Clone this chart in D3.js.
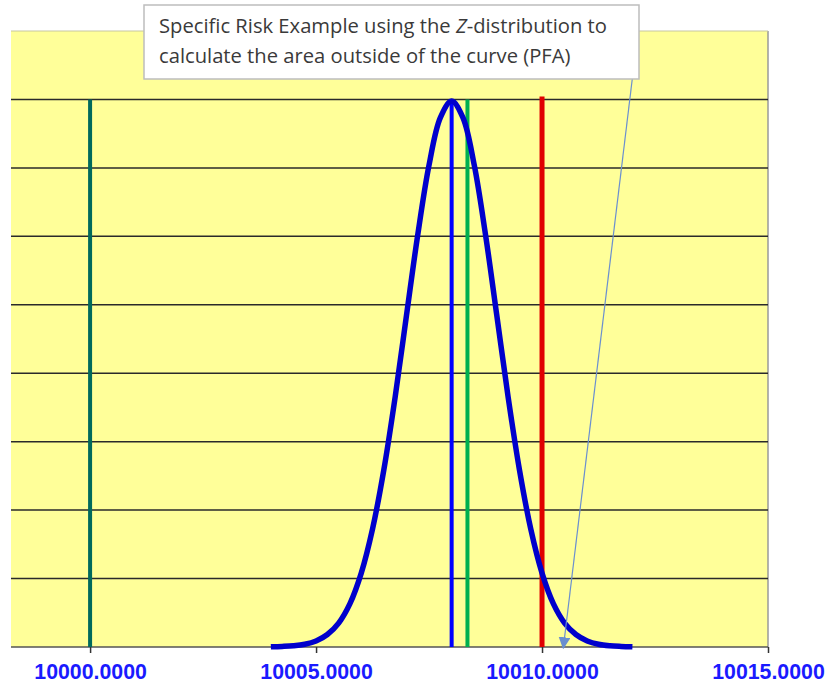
<!DOCTYPE html>
<html><head><meta charset="utf-8">
<script src="https://cdn.jsdelivr.net/npm/d3@7"></script>
<style>body{margin:0;background:#fff}</style>
</head><body>
<script>
// Data
const curveX = [10004,10004.25,10004.5,10004.75,10005,10005.25,10005.5,10005.75,10006,10006.25,10006.5,10006.75,10007,10007.25,10007.5,10007.75,10008,10008.25,10008.5,10008.75,10009,10009.25,10009.5,10009.75,10010,10010.25,10010.5,10010.75,10011,10011.25,10011.5,10011.75,10012];
const curveY = [0.0001,0.0004,0.0009,0.0020,0.0044,0.0091,0.0175,0.0317,0.0540,0.0863,0.1295,0.1826,0.2420,0.3011,0.3521,0.3867,0.3989,0.3867,0.3521,0.3011,0.2420,0.1826,0.1295,0.0863,0.0540,0.0317,0.0175,0.0091,0.0044,0.0020,0.0009,0.0004,0.0001];
const refNames = ["nominal","mean","measured","limit"];
const refValues = [10000, 10008, 10008.35, 10010];
const refColors = ["#006a5c","#0000ff","#00b050","#e00000"];
const xTicks = [10000, 10005, 10010, 10015];
const yGrid = [0.05,0.10,0.15,0.20,0.25,0.30,0.35,0.40];
const noteLines = [["Specific Risk Example using the ", "Z", "-distribution to"], ["calculate the area outside of the curve (PFA)"]];
const arrowTarget = [10010.47, 0];

(function(){
const W = 826, H = 683;
const pL = 11, pR = 768, pT = 31, pB = 647;
const svg = d3.select("body").append("svg").attr("width", W).attr("height", H);

const x = d3.scaleLinear().domain([9998.25, 10015]).range([pL, pR]);
const y = d3.scaleLinear().domain([0, 0.45]).range([pB, pT]);

svg.append("rect").attr("x", pL).attr("y", pT).attr("width", pR-pL).attr("height", pB-pT).attr("fill", "#ffff99");
svg.append("line").attr("x1", pR).attr("x2", pR).attr("y1", pT).attr("y2", pB).attr("stroke", "#9a9a9a").attr("stroke-width", 1.5);
svg.append("line").attr("x1", pL).attr("x2", pR).attr("y1", pT).attr("y2", pT).attr("stroke", "#c8c8a0").attr("stroke-width", 1);

svg.selectAll(".grid").data(yGrid).enter().append("line")
  .attr("x1", pL).attr("x2", pR)
  .attr("y1", d => y(d)).attr("y2", d => y(d))
  .attr("stroke", "#2a2a2a").attr("stroke-width", 1.5);

const xAxis = d3.axisBottom(x).tickValues(xTicks).tickSize(6).tickFormat(d3.format(".4f"));
const gx = svg.append("g").attr("transform", `translate(0,${pB})`).call(xAxis);
gx.select(".domain").attr("stroke", "#555").attr("stroke-width", 1.5).attr("d", `M${pL},0H${pR}`);
gx.selectAll(".tick line").attr("stroke", "#333").attr("stroke-width", 1.5);
gx.selectAll(".tick text").attr("fill", "#1a1aff").attr("font-family", "Liberation Sans, Arial, sans-serif")
  .attr("font-weight", "bold").attr("font-size", 21.3).attr("y", 32).attr("dy", 0);

svg.selectAll(".ref").data(refValues).enter().append("line")
  .attr("x1", d => x(d)).attr("x2", d => x(d))
  .attr("y1", (d,i) => i === 3 ? y(0.4) - 3 : y(0.4)).attr("y2", pB)
  .attr("stroke", (d,i) => refColors[i]).attr("stroke-width", (d,i) => i === 3 ? 5 : 4);

const line = d3.line().x((d,i) => x(curveX[i])).y(d => y(d)).curve(d3.curveCatmullRom);
svg.append("path").datum(curveY).attr("d", line).attr("fill", "none")
  .attr("stroke", "#0000cc").attr("stroke-width", 5.5).attr("stroke-linejoin", "round");

const bx = 144, by = 5, bw = 495, bh = 74;
svg.append("defs").append("marker").attr("id", "ah").attr("viewBox", "0 0 10 10").attr("refX", 9).attr("refY", 5)
  .attr("markerWidth", 12).attr("markerHeight", 12).attr("markerUnits", "userSpaceOnUse").attr("orient", "auto")
  .append("path").attr("d", "M0,0L10,5L0,10z").attr("fill", "#6a8fd0");
svg.append("line").attr("x1", bx + bw - 2).attr("y1", 40).attr("x2", x(arrowTarget[0])).attr("y2", y(arrowTarget[1]) + 1)
  .attr("stroke", "#6a8fd0").attr("stroke-width", 1.2).attr("marker-end", "url(#ah)");

svg.append("rect").attr("x", bx).attr("y", by).attr("width", bw).attr("height", bh)
  .attr("fill", "#fff").attr("stroke", "#bdbdbd").attr("stroke-width", 1.5);
noteLines.forEach((parts, li) => {
  const t = svg.append("text").attr("x", bx + 15).attr("y", by + 28 + li * 30)
    .attr("font-family", "Open Sans, sans-serif").attr("font-size", 20.2).attr("fill", "#3a3a3a");
  parts.forEach((p, pi) => {
    t.append("tspan").text(p).attr("font-style", (li === 0 && pi === 1) ? "italic" : "normal");
  });
});
})();
</script>
</body></html>
